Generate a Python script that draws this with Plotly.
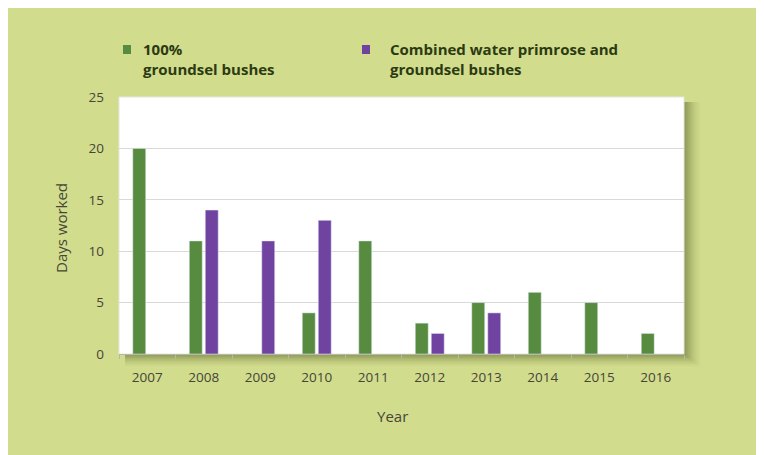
import plotly.graph_objects as go

years = ["2007", "2008", "2009", "2010", "2011", "2012", "2013", "2014", "2015", "2016"]
groundsel = [20, 11, None, 4, 11, 3, 5, 6, 5, 2]
combined = [None, 14, 11, 13, None, 2, 4, None, None, None]
y_ticks = [0, 5, 10, 15, 20, 25]
legend_groundsel = "100%<br>groundsel bushes"
legend_combined = "Combined water primrose and<br>groundsel bushes"

GREEN = "#568b40"
PURPLE = "#7043a0"
BG = "#d1dc8d"
TXT = "#464638"
LEG = "#2c3a12"
FONT = "Open Sans"

# page is rendered with an 8px body margin; work in page coordinates
OFF = 8
W, H = 764 - OFF + 12, 455 - OFF + 12       # a little oversize so the panel reaches the window edges
PL, PR, PT, PB = 119, 684, 97, 354          # plot area in page pixels
L, T = PL - OFF, PT - OFF
R, B = W - (PR - OFF), H - (PB - OFF)
PW, PH = PR - PL, PB - PT


def px(x):
    return (x - PL) / PW


def py(y):
    return (PB - y) / PH


fig = go.Figure()
fig.add_trace(go.Bar(x=years, y=groundsel, marker_color=GREEN, name="100% groundsel bushes", showlegend=False))
fig.add_trace(go.Bar(x=years, y=combined, marker_color=PURPLE, name="Combined water primrose and groundsel bushes", showlegend=False))

shapes = []
# soft drop shadow right and below the plot area
for i, op in zip(range(1, 10), [0.09, 0.085, 0.075, 0.065, 0.055, 0.045, 0.035, 0.025, 0.018]):
    shapes.append(dict(type="rect", xref="paper", yref="paper",
                       x0=px(PL + 6), x1=px(PR + 1.8 * i), y0=py(PB + i * 1.4), y1=py(PT + 5),
                       fillcolor="rgba(60,70,20,%.3f)" % op, line_width=0, layer="below"))
# white plot area
shapes.append(dict(type="rect", xref="paper", yref="paper", x0=0, x1=1, y0=0, y1=1,
                   fillcolor="white", line=dict(color="#e6e6e0", width=1), layer="below"))

# legend squares
shapes.append(dict(type="rect", xref="paper", yref="paper", x0=px(123), x1=px(131), y0=py(54), y1=py(45),
                   fillcolor=GREEN, line_width=0))
shapes.append(dict(type="rect", xref="paper", yref="paper", x0=px(362), x1=px(370), y0=py(54), y1=py(45),
                   fillcolor=PURPLE, line_width=0))

annotations = []
for x0, t in [(141, legend_groundsel), (388, legend_combined)]:
    annotations.append(dict(text="<b>%s</b>" % t, xref="paper", yref="paper", x=px(x0), y=py(59),
                            xanchor="left", yanchor="middle", align="left", showarrow=False,
                            font=dict(family=FONT, size=15, color=LEG)))
annotations.append(dict(text="Days worked", xref="paper", yref="paper", x=px(61), y=py(228), textangle=-90,
                        xanchor="center", yanchor="middle", showarrow=False,
                        font=dict(family=FONT, size=15, color=TXT)))
annotations.append(dict(text="Year", xref="paper", yref="paper", x=px(392), y=py(416),
                        xanchor="center", yanchor="middle", showarrow=False,
                        font=dict(family=FONT, size=15, color=TXT)))

fig.update_layout(
    width=W, height=H,
    margin=dict(l=L, r=R, t=T, b=B, pad=0),
    paper_bgcolor=BG, plot_bgcolor="rgba(0,0,0,0)",
    barmode="group", bargap=0.434, bargroupgap=0.19,
    shapes=shapes, annotations=annotations,
    font=dict(family=FONT, size=13, color=TXT),
    showlegend=False,
)
fig.update_xaxes(
    type="category", showgrid=False, showline=True, linecolor="#b8b8a8", linewidth=1,
    ticks="outside", tickson="boundaries", ticklen=4, tickcolor="#b8b8a8",
    tickfont=dict(family=FONT, size=13.5, color=TXT), ticklabelstandoff=11,
)
fig.update_yaxes(
    range=[0, 25], tickvals=y_ticks, showgrid=True, gridcolor="#d9d9d9", gridwidth=1,
    zeroline=False, showline=False, ticks="",
    tickfont=dict(family=FONT, size=13.5, color=TXT), ticklabelstandoff=14,
)

fig.write_html("out.html")
